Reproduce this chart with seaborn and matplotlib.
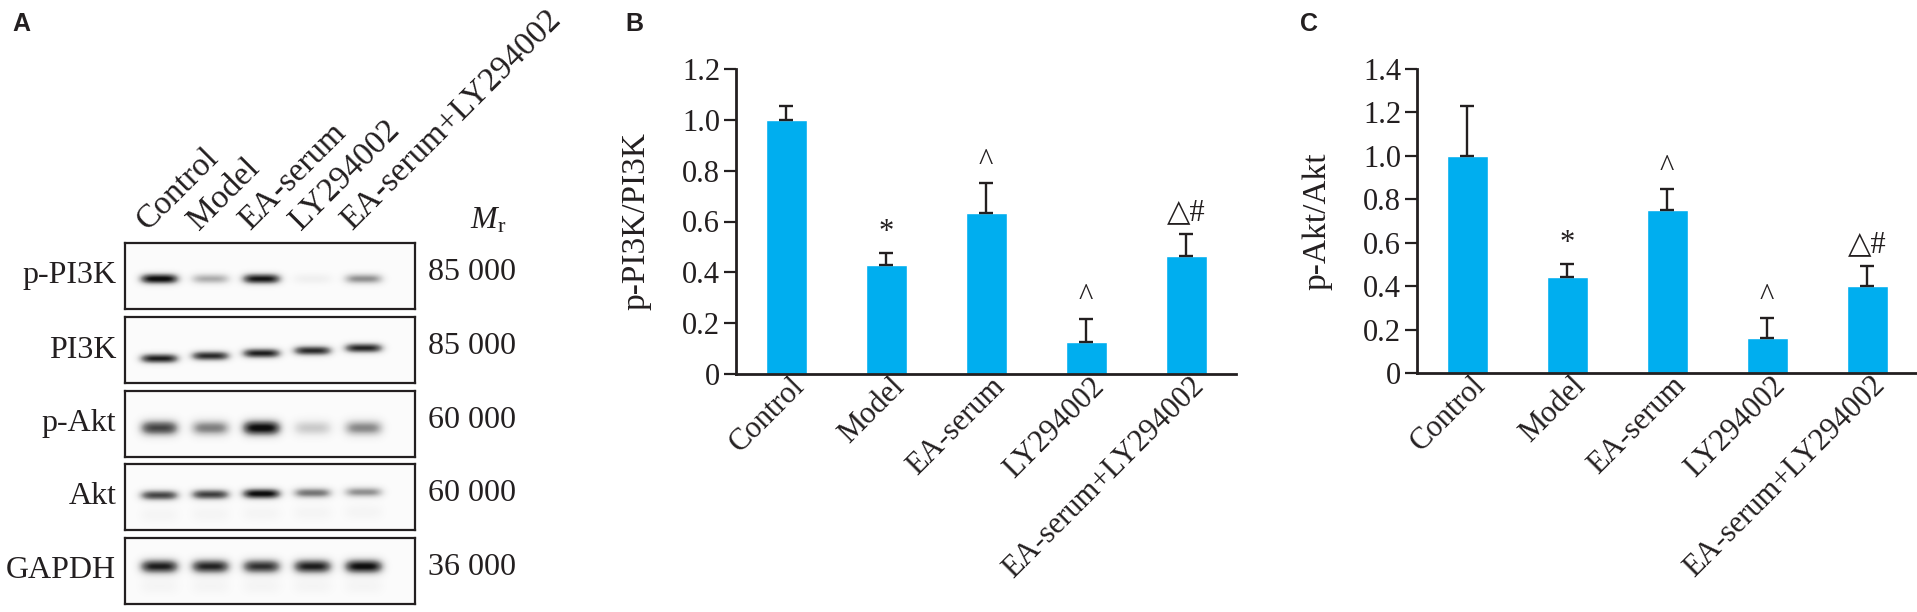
import numpy as np
import matplotlib
matplotlib.use("Agg")
import matplotlib.pyplot as plt
import matplotlib.transforms as mtransforms
import seaborn as sns

# --- data ---
groups = ["Control", "Model", "EA-serum", "LY294002", "EA-serum+LY294002"]
sig_marks = ["", "*", "^", "^", "\u25b3#"]

pi3k_mean = [1.00, 0.430, 0.634, 0.125, 0.466]
pi3k_err = [0.056, 0.045, 0.116, 0.093, 0.086]

akt_mean = [1.00, 0.441, 0.751, 0.161, 0.400]
akt_err = [0.230, 0.059, 0.097, 0.092, 0.095]

b_yticks = [0, 0.2, 0.4, 0.6, 0.8, 1.0, 1.2]
b_yticklabels = ["0", "0.2", "0.4", "0.6", "0.8", "1.0", "1.2"]
c_yticks = [0, 0.2, 0.4, 0.6, 0.8, 1.0, 1.2, 1.4]
c_yticklabels = ["0", "0.2", "0.4", "0.6", "0.8", "1.0", "1.2", "1.4"]

blot_rows = ["p-PI3K", "PI3K", "p-Akt", "Akt", "GAPDH"]
blot_mr = ["85 000", "85 000", "60 000", "60 000", "36 000"]
# band darkness per lane (0 = empty, 1 = black)
band_p_pi3k = [1.00, 0.42, 0.95, 0.10, 0.52]
band_pi3k = [0.92, 0.88, 0.92, 0.88, 0.90]
band_p_akt = [0.80, 0.58, 1.00, 0.30, 0.55]
band_akt = [0.80, 0.82, 1.00, 0.62, 0.52]
band_gapdh = [0.92, 0.90, 0.86, 0.92, 0.98]
band_levels = [band_p_pi3k, band_pi3k, band_p_akt, band_akt, band_gapdh]

# --- style ---
BAR_COLOR = "#00aeef"
INK = "#231f20"
W, H = 1917, 612

sns.set_style("ticks")
plt.rcParams["font.family"] = ["Liberation Serif", "DejaVu Sans"]
plt.rcParams["mathtext.fontset"] = "custom"
plt.rcParams["mathtext.rm"] = "Liberation Serif"
plt.rcParams["mathtext.it"] = "Liberation Serif:italic"

fig = plt.figure(figsize=(W / 100, H / 100), dpi=100)


def px_axes(left, top, right, bottom):
    return fig.add_axes([left / W, 1 - bottom / H, (right - left) / W, (bottom - top) / H])


# --- panel A: western blot ---
BLOT_W = 5.69   # box width in lane units
LANE0 = 0.67    # centre of first lane
# (band centre y, tilt per lane, half thickness, lower smear)
row_style = [(0.55, 0.000, 0.080, 0.00),
             (0.55, -0.040, 0.075, 0.00),
             (0.56, 0.000, 0.120, 0.00),
             (0.45, -0.012, 0.080, 0.06),
             (0.43, 0.000, 0.110, 0.06)]
box_tops = [243, 317, 391, 464, 538]
BOX_H = 66

xs = np.linspace(0, BLOT_W, 500)
ys = np.linspace(0, 1, 120)
X, Y = np.meshgrid(xs, ys)

blot_axes = []
for r, (name, mr, levels) in enumerate(zip(blot_rows, blot_mr, band_levels)):
    ax = px_axes(125, box_tops[r], 415, box_tops[r] + BOX_H)
    y0, tilt, thick, smear = row_style[r]
    img = np.full_like(X, 0.03)
    for i, lv in enumerate(levels):
        cx = LANE0 + i
        yc = y0 + tilt * (i - 2)
        sx = np.exp(-((X - cx) / 0.38) ** 4)
        img += lv * sx * np.exp(-((Y - yc) / thick) ** 2)
        img += smear * sx * np.exp(-((Y - yc - 0.3) / 0.12) ** 2)
    ax.imshow(np.clip(img, 0, 1), cmap="Greys", vmin=0, vmax=1.05,
              extent=(0, BLOT_W, 1, 0), aspect="auto", interpolation="bilinear")
    ax.set_xlim(0, BLOT_W)
    ax.set_ylim(1, 0)
    ax.set_xticks([])
    ax.set_yticks([])
    for sp in ax.spines.values():
        sp.set_visible(True)
        sp.set_linewidth(1.6)
        sp.set_color(INK)
    ax.text(-0.03, 0.5, name, transform=ax.transAxes, ha="right", va="center",
            fontsize=23, color=INK)
    ax.text(1.045, 0.56, mr, transform=ax.transAxes, ha="left", va="center",
            fontsize=23, color=INK)
    blot_axes.append(ax)

top_ax = blot_axes[0]
for i, g in enumerate(groups):
    top_ax.text(LANE0 + i - 0.22, -0.18, g, rotation=45, rotation_mode="anchor",
                ha="left", va="baseline", fontsize=24, color=INK)
top_ax.text(1.19, 1.33, r"$M_\mathrm{r}$", transform=top_ax.transAxes,
            ha="left", va="center", fontsize=23, color=INK)


# --- panels B and C: bar charts ---
def bar_panel(ax, means, errs, yticks, yticklabels, ylabel):
    sns.barplot(x=groups, y=means, color=BAR_COLOR, saturation=1, width=0.41,
                errorbar=None, ax=ax)
    ax.errorbar(range(len(groups)), means, yerr=[np.zeros(len(errs)), errs],
                fmt="none", ecolor=INK, elinewidth=1.7, capsize=5, capthick=1.7)
    for i, (m, e, s) in enumerate(zip(means, errs, sig_marks)):
        if s:
            ax.annotate(s, (i, m + e), xytext=(0, 9.5), textcoords="offset points",
                        ha="center", va="baseline", fontsize=22, color=INK)
    ax.set_xlim(-0.5, 4.5)
    ax.set_ylim(yticks[0], yticks[-1])
    ax.set_yticks(yticks)
    ax.set_yticklabels(yticklabels)
    ax.set_ylabel(ylabel, fontsize=24, color=INK)
    ax.yaxis.set_label_coords(-0.17, 0.5)
    ax.set_xlabel("")
    sns.despine(ax=ax)
    for sp in ("left", "bottom"):
        ax.spines[sp].set_linewidth(2.0)
        ax.spines[sp].set_color(INK)
    ax.tick_params(axis="y", direction="out", length=8.5, width=1.6, color=INK,
                   labelsize=22, labelcolor=INK, pad=3)
    ax.tick_params(axis="x", length=0, labelsize=22, labelcolor=INK, pad=6)
    shift = mtransforms.ScaledTranslation(10 / 72, 0, fig.dpi_scale_trans)
    for lab in ax.get_xticklabels():
        lab.set_rotation(45)
        lab.set_rotation_mode("anchor")
        lab.set_ha("right")
        lab.set_va("center")
        lab.set_transform(lab.get_transform() + shift)


ax_b = px_axes(736, 69, 1236, 374)
bar_panel(ax_b, pi3k_mean, pi3k_err, b_yticks, b_yticklabels, "p-PI3K/PI3K")

ax_c = px_axes(1417, 69, 1917, 373)
bar_panel(ax_c, akt_mean, akt_err, c_yticks, c_yticklabels, "p-Akt/Akt")

# panel letters
for letter, x in (("A", 12), ("B", 625), ("C", 1300)):
    fig.text(x / W, 1 - 12 / H, letter, ha="left", va="top", fontsize=18,
             fontweight="bold", family="Liberation Sans", color=INK)

fig.savefig("out.png", dpi=100)
